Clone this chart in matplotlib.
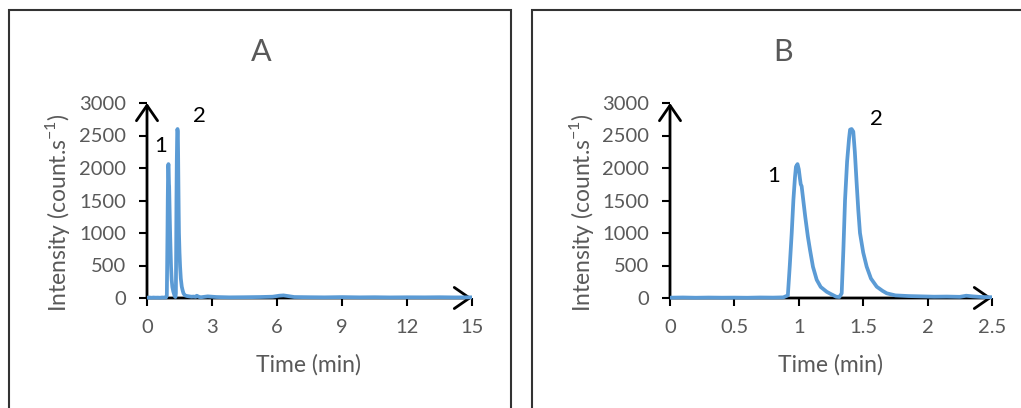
import matplotlib
matplotlib.use("Agg")
import matplotlib.pyplot as plt
from matplotlib.patches import Rectangle

# chromatogram (time in min, intensity in count/s)
time_min = [0.00, 0.10, 0.20, 0.30, 0.40, 0.50, 0.60, 0.70, 0.80, 0.88,
            0.915, 0.93, 0.945, 0.958, 0.97, 0.978, 0.99, 1.00, 1.008, 1.015,
            1.022, 1.035, 1.05, 1.07, 1.087, 1.11, 1.139, 1.17, 1.217, 1.25,
            1.29, 1.315, 1.333, 1.346, 1.359, 1.375, 1.39, 1.398, 1.41, 1.423,
            1.435, 1.449, 1.462, 1.475, 1.50, 1.527, 1.56, 1.605, 1.65, 1.683,
            1.75, 1.85, 1.95, 2.05, 2.15, 2.25, 2.30, 2.35, 2.42, 2.50,
            2.8, 3.2, 3.8, 4.5, 5.2, 5.8, 6.1, 6.3, 6.5, 6.8,
            7.5, 8.2, 9.0, 9.8, 10.5, 11.2, 12.0, 12.8, 13.5, 14.2, 15.0]
intensity = [5, 8, 4, 7, 5, 6, 4, 8, 6, 10,
             40, 500, 1000, 1508, 1850, 2020, 2060, 1980, 1850, 1750,
             1720, 1500, 1250, 950, 740, 480, 280, 170, 95, 60,
             20, 15, 72, 738, 1508, 2100, 2450, 2590, 2600, 2560,
             2250, 1770, 1350, 1000, 700, 482, 300, 174, 110, 72,
             40, 30, 25, 20, 22, 18, 35, 25, 15, 12,
             25, 15, 10, 12, 15, 20, 35, 40, 30, 15,
             12, 10, 14, 10, 12, 9, 11, 10, 12, 9, 10]

panels = ["A", "B"]
x_max = [15, 2.5]
x_ticks = [[0, 3, 6, 9, 12, 15], [0, 0.5, 1, 1.5, 2, 2.5]]
x_ticklabels = [["0", "3", "6", "9", "12", "15"], ["0", "0.5", "1", "1.5", "2", "2.5"]]
y_ticks = [0, 500, 1000, 1500, 2000, 2500, 3000]
peak_labels = ["1", "2"]
peak_label_pos = [[(0.65, 2340), (2.4, 2800)], [(0.807, 1880), (1.6, 2750)]]

BLUE = "#5B9BD5"
GRAY = "#595959"
plt.rcParams["font.family"] = ["Lato", "DejaVu Sans"]

fig = plt.figure(figsize=(10.21, 4.08), dpi=100)
W, H = 1021, 408

# panel frames (pixel boxes -> figure fraction)
for x0, x1 in [(9, 511), (532, 1030)]:
    fig.add_artist(Rectangle((x0 / W, -0.05), (x1 - x0) / W, (H - 10) / H + 0.05,
                             transform=fig.transFigure, fill=False,
                             edgecolor="#333333", lw=1.5))

ax_left = [147, 670]
ax_right = [472, 992]
for i, name in enumerate(panels):
    ax = fig.add_axes([ax_left[i] / W, 1 - 298 / H,
                       (ax_right[i] - ax_left[i]) / W, 195 / H])
    line, = ax.plot(time_min, intensity, color=BLUE, lw=2.7, zorder=3,
                    solid_joinstyle="round")
    ax.set_xlim(0, x_max[i])
    ax.set_ylim(0, 3000)
    line.set_clip_path(Rectangle((0, -300), x_max[i], 3600, transform=ax.transData))
    for s in ax.spines.values():
        s.set_visible(False)
    ax.set_xticks(x_ticks[i])
    ax.set_xticklabels(x_ticklabels[i])
    ax.set_yticks(y_ticks)
    ax.tick_params(direction="out", length=6, width=1.5, color="black",
                   labelcolor=GRAY, labelsize=14.5)
    ax.tick_params(axis="x", pad=9)
    ax.tick_params(axis="y", pad=9)

    arrow = dict(arrowstyle="->,head_length=0.55,head_width=0.38", lw=2,
                 color="black", mutation_scale=20, shrinkA=0, shrinkB=0)
    ax.annotate("", xy=(x_max[i], 0), xytext=(0, 0), arrowprops=arrow,
                annotation_clip=False, zorder=2)
    ax.annotate("", xy=(0, 3000), xytext=(0, 0), arrowprops=arrow,
                annotation_clip=False, zorder=2)

    for lab, (px, py) in zip(peak_labels, peak_label_pos[i]):
        ax.text(px, py, lab, color="black", fontsize=16, ha="center", va="center")

    ax.text(0.35, 1.26, name, transform=ax.transAxes, fontsize=22,
            color=GRAY, ha="center", va="center")
    ax.text(0.498, -0.344, "Time (min)", transform=ax.transAxes, fontsize=16.5,
            color=GRAY, ha="center", va="center")
    ax.text(-0.274, 0.44, "Intensity (count.s$^{\\mathregular{-1}}$)",
            transform=ax.transAxes, fontsize=16.5, color=GRAY,
            ha="center", va="center", rotation=90)

fig.savefig("out.png", dpi=100)
